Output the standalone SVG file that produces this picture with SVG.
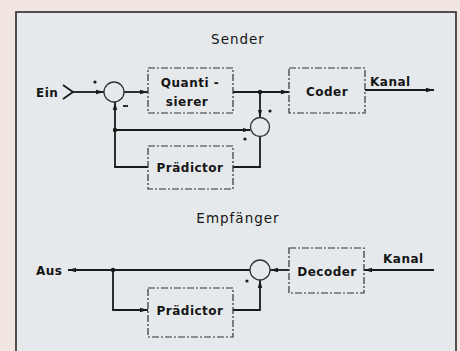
<svg xmlns="http://www.w3.org/2000/svg" width="460" height="351" viewBox="0 0 460 351">
<defs>
<style>
.t{font-family:"DejaVu Sans","Liberation Sans",sans-serif;font-size:12px;font-weight:bold;fill:#151515;letter-spacing:0.5px}
.h{font-family:"DejaVu Sans","Liberation Sans",sans-serif;font-size:13.5px;fill:#151515;letter-spacing:1px}
.box{fill:none;stroke:#333;stroke-width:1.2;stroke-dasharray:7 2 2 2}
.ln{fill:none;stroke:#1a1a1a;stroke-width:1.8}
.c{fill:none;stroke:#333;stroke-width:1.3}
.dot{fill:#1a1a1a}
</style>
<marker id="ar" viewBox="0 0 8 6" refX="8" refY="3" markerWidth="8" markerHeight="6" markerUnits="userSpaceOnUse" orient="auto">
<path d="M0,0.8 L8,3 L0,5.2 Z" fill="#1a1a1a"/>
</marker>
</defs>
<rect x="0" y="0" width="460" height="351" fill="#f1e6e2"/>
<rect x="16" y="12" width="440" height="345" fill="#e5e9eb" stroke="#2a2a2a" stroke-width="1.6"/>

<text class="h" x="238" y="44" text-anchor="middle">Sender</text>
<text class="h" x="238" y="223" text-anchor="middle">Empfänger</text>

<g id="connectors">
<!-- sender -->
<path class="ln" d="M63,85 L73,92 L63,99" stroke-width="1.6"/>
<text class="t" x="36" y="97">Ein</text>
<path class="ln" d="M73,92 L104,92" marker-end="url(#ar)"/>
<path class="ln" d="M124,92 L148,92" marker-end="url(#ar)"/>
<path class="ln" d="M233,92 L289,92" marker-end="url(#ar)"/>
<path class="ln" d="M365,90 L434,90" marker-end="url(#ar)"/>
<path class="ln" d="M260,92 L260,117.5" marker-end="url(#ar)"/>
<path class="ln" d="M115,130 L250.5,130" marker-end="url(#ar)"/>
<path class="ln" d="M148,167 L115,167 L115,102" marker-end="url(#ar)"/>
<path class="ln" d="M260,136.5 L260,167 L233,167"/>
<circle class="dot" cx="260" cy="92" r="2.2"/>
<circle class="dot" cx="115" cy="130" r="2.2"/>
<circle class="dot" cx="95" cy="82" r="1.6"/>
<circle class="dot" cx="270" cy="111" r="1.6"/>
<circle class="dot" cx="245" cy="139" r="1.6"/>
<path class="ln" d="M123,106 L128,106" stroke-width="1.3"/>
<!-- receiver -->
<text class="t" x="36" y="275">Aus</text>
<path class="ln" d="M250,270 L68,270" marker-end="url(#ar)"/>
<path class="ln" d="M289,270 L270,270" marker-end="url(#ar)"/>
<path class="ln" d="M434,270 L364,270" marker-end="url(#ar)"/>
<path class="ln" d="M113,270 L113,310 L148,310" marker-end="url(#ar)"/>
<path class="ln" d="M233,310 L260,310 L260,280" marker-end="url(#ar)"/>
<circle class="dot" cx="113" cy="270" r="2.2"/>
<circle class="dot" cx="247" cy="281" r="1.6"/>
</g>

<g id="sum1"><circle class="c" cx="114" cy="92" r="10"/></g>
<g id="sum2"><circle class="c" cx="260" cy="127" r="9.5"/></g>
<g id="sum3"><circle class="c" cx="260" cy="270" r="10"/></g>

<g id="quantisierer">
<rect class="box" x="148" y="68" width="85" height="45"/>
<text class="t" x="190" y="87" text-anchor="middle">Quanti -</text>
<text class="t" x="187" y="106" text-anchor="middle">sierer</text>
</g>
<g id="coder">
<rect class="box" x="289" y="68" width="76" height="45"/>
<text class="t" x="327" y="96" text-anchor="middle">Coder</text>
</g>
<g id="kanal1"><text class="t" x="370" y="86">Kanal</text></g>
<g id="praedictor1">
<rect class="box" x="148" y="146" width="85" height="43"/>
<text class="t" x="190" y="172" text-anchor="middle">Prädictor</text>
</g>

<g id="decoder">
<rect class="box" x="289" y="248" width="75" height="45"/>
<text class="t" x="327" y="276" text-anchor="middle">Decoder</text>
</g>
<g id="kanal2"><text class="t" x="383" y="263">Kanal</text></g>
<g id="praedictor2">
<rect class="box" x="148" y="288" width="85" height="49"/>
<text class="t" x="190" y="315" text-anchor="middle">Prädictor</text>
</g>
</svg>
